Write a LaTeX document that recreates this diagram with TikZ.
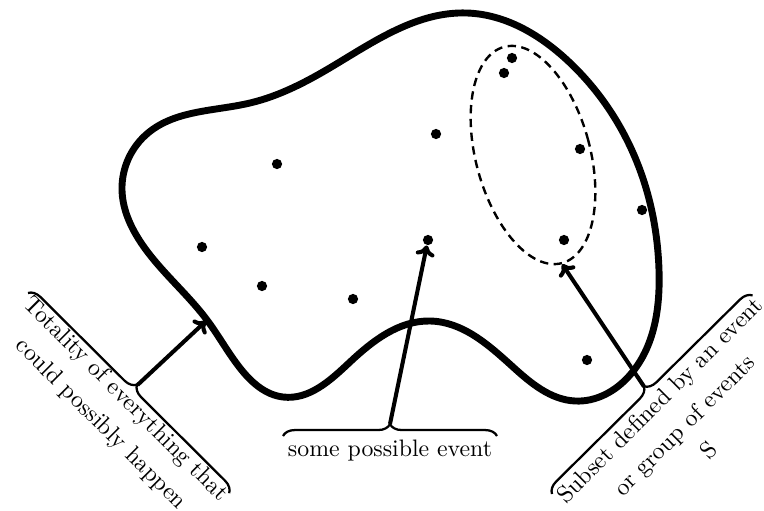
\documentclass[tikz,border=0pt]{standalone}
\usetikzlibrary{decorations.pathreplacing,arrows.meta,shapes.geometric,hobby}
\begin{document}
\begin{tikzpicture}[x=0.42pt,y=-0.42pt,
 dot/.style={circle,fill,inner sep=0pt,minimum size=4.3pt},
 blob/.style={line width=2.9pt,line join=round},
 ptr/.style={line width=1.7pt,-{To[length=4.5pt,width=8pt]}},
 brc/.style={decorate,decoration={brace,amplitude=5pt},line width=0.95pt},
 lbl/.style={align=center,font=\fontsize{10}{14.7}\selectfont,inner sep=0pt},
 subset/.style={ellipse,draw,line width=1pt,dash pattern=on 3.5pt off 2.3pt,inner sep=0pt,minimum width=48pt,minimum height=94pt}]
\useasboundingbox (0,0) rectangle (764,510);
% the whole space
\draw[blob,use Hobby shortcut,closed=true]
 (122,190) .. (148,133) .. (250,103) .. (333,66) .. (467,13) .. (567,60)
 .. (640,170) .. (659,270) .. (630,375) .. (575,401) .. (513,367)
 .. (430,321) .. (350,362) .. (283,397) .. (240,368) .. (207,320) .. (138,238);
% subset
\node[subset,rotate=15] (ell) at (533,155) {};
% events
\node[dot] (d1) at (277,164) {};
\node[dot] (d2) at (436,134) {};
\node[dot] (d3) at (202,247) {};
\node[dot] (d4) at (262,286) {};
\node[dot] (d5) at (353,299) {};
\node[dot] (d6) at (428,240) {};
\node[dot] (d7) at (512,58) {};
\node[dot] (d8) at (504,73) {};
\node[dot] (d9) at (580,149) {};
\node[dot] (d10) at (642,210) {};
\node[dot] (d11) at (564,240) {};
\node[dot] (d12) at (587,360) {};
% braces
\coordinate (lA) at (28,293);
\coordinate (lB) at (230,494);
\coordinate (mA) at (283,436);
\coordinate (mB) at (497,436);
\coordinate (rA) at (552,494);
\coordinate (rB) at (753,295);
\draw[brc] (lA) -- (lB);
\draw[brc] (mA) -- (mB);
\draw[brc] (rA) -- (rB);
\coordinate (tipL) at (137.5,385);
\coordinate (tipM) at (390,424);
\coordinate (tipR) at (644,386.5);
\coordinate (hitL) at (206,321);
% arrows
\draw[ptr] (tipL) -- (hitL);
\draw[ptr] (tipM) -- (d6);
\draw[ptr] (tipR) -- (ell.south);
% labels
\node[lbl,rotate=-45] (tL) at (113,412) {Totality of everything that\\could possibly happen};
\node[lbl] (tM) at (390,451) {some possible event};
\node[lbl,rotate=45] (tR) at (684,425) {Subset defined by an event\\or group of events\\S};
\end{tikzpicture}
\end{document}
